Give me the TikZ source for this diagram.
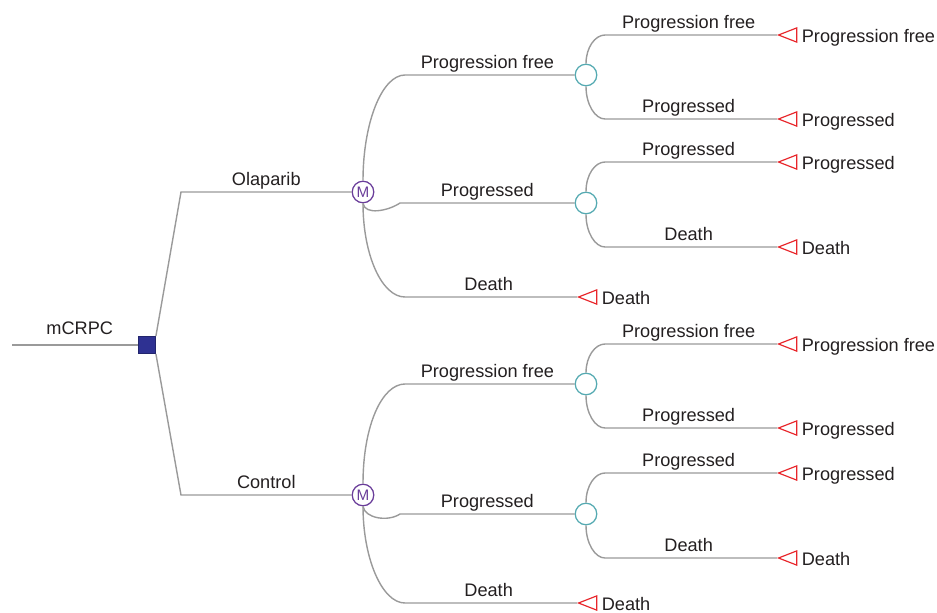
\documentclass[tikz,border=0pt]{standalone}
\usepackage{fontspec}
\setmainfont{Liberation Sans}
\usepackage{xcolor}
\usepackage{tikz}
\usetikzlibrary{
	shapes.geometric
}

\definecolor{linegray}{HTML}{9A9A9A}
\definecolor{txtgray}{HTML}{231F20}
\definecolor{boxblue}{HTML}{2E3192}
\definecolor{markovpurple}{HTML}{6A3D9A}
\definecolor{chanceteal}{HTML}{55AAB2}
\definecolor{termred}{HTML}{E8262B}

\tikzset{
	branch/.style={draw=linegray, line width=1.2pt},
	decision/.style={rectangle, draw=boxblue!75!black, fill=boxblue, line width=0.6pt, minimum size=14.6pt, inner sep=0pt},
	markov/.style={circle, draw=markovpurple, fill=white, line width=1.1pt, minimum size=18.4pt, inner sep=0pt, text=markovpurple, font=\fontsize{13}{14}\selectfont},
	chance/.style={circle, draw=chanceteal, fill=white, line width=1.1pt, minimum size=18.4pt, inner sep=0pt},
	terminal/.style={isosceles triangle, shape border rotate=180, isosceles triangle stretches, minimum width=12.2pt, minimum height=15.6pt, inner sep=0pt, draw=termred, fill=white, line width=1pt, anchor=apex},
	lbl/.style={anchor=base, yshift=5.6pt, inner sep=0pt},
	endlbl/.style={anchor=base west, yshift=-6pt, inner xsep=3.6pt, inner ysep=0pt}
}

\begin{document}
\begin{tikzpicture}[x=0.03cm, y=-0.03cm, font=\fontsize{15.5}{18}\selectfont, text=txtgray]
	\useasboundingbox (0,0) rectangle (937,612);
	% decision
	\coordinate (root) at (12,345);
	\node[decision] (d) at (147,345) {};
	\draw[branch] (root) -- (d) node[lbl, midway, xshift=4pt, yshift=3.5pt] (rootl) {mCRPC};
	% one arm per treatment
	\foreach \arm/\treat/\corner/\ym/\ya/\yb/\yd in {a/Olaparib/north east/192/75/203/297, b/Control/south east/495/384/514/603} {
		\node[markov] (\arm m) at (363,\ym) {M};
		\node[chance] (\arm c1) at (586,\ya) {};
		\node[chance] (\arm c2) at (586,\yb) {};
		\node[terminal] (\arm t0) at (577,\yd) {};
		\node[terminal] (\arm t1) at (777,{\ya-40}) {};
		\node[terminal] (\arm t2) at (777,{\ya+44}) {};
		\node[terminal] (\arm t3) at (777,{\yb-41}) {};
		\node[terminal] (\arm t4) at (777,{\yb+44}) {};
		\draw[branch] (d.\corner) -- (181,\ym) -- (\arm m) node[lbl, midway] (\arm l) {\treat};
		% markov states
		\draw[branch] (\arm m.north) .. controls +(0,-58) and +(-23,0) .. (405,\ya) -- (\arm c1) node[lbl, midway, xshift=-2pt] (\arm l1) {Progression free};
		\draw[branch] (\arm m.south) .. controls +(2,12) and +(-12,8) .. (400,\yb) -- (\arm c2) node[lbl, midway] (\arm l2) {Progressed};
		\draw[branch] (\arm m.south) .. controls +(0,52) and +(-23,0) .. (405,\yd) -- (\arm t0) node[lbl, midway, xshift=-2pt] (\arm l0) {Death};
		% transitions
		\draw[branch] (\arm c1.north) .. controls +(0,-16) and +(-10,0) .. (605,{\ya-40}) -- (\arm t1) node[lbl, midway, xshift=-2pt] (\arm l11) {Progression free};
		\draw[branch] (\arm c1.south) .. controls +(0,18) and +(-10,0) .. (605,{\ya+44}) -- (\arm t2) node[lbl, midway, xshift=-2pt] (\arm l12) {Progressed};
		\draw[branch] (\arm c2.north) .. controls +(0,-17) and +(-10,0) .. (605,{\yb-41}) -- (\arm t3) node[lbl, midway, xshift=-2pt] (\arm l21) {Progressed};
		\draw[branch] (\arm c2.south) .. controls +(0,18) and +(-10,0) .. (605,{\yb+44}) -- (\arm t4) node[lbl, midway, xshift=-2pt] (\arm l22) {Death};
		% outcomes
		\node[endlbl] (\arm e0) at (\arm t0.lower side) {Death};
		\node[endlbl] (\arm e1) at (\arm t1.lower side) {Progression free};
		\node[endlbl] (\arm e2) at (\arm t2.lower side) {Progressed};
		\node[endlbl] (\arm e3) at (\arm t3.lower side) {Progressed};
		\node[endlbl] (\arm e4) at (\arm t4.lower side) {Death};
	}
\end{tikzpicture}
\end{document}
